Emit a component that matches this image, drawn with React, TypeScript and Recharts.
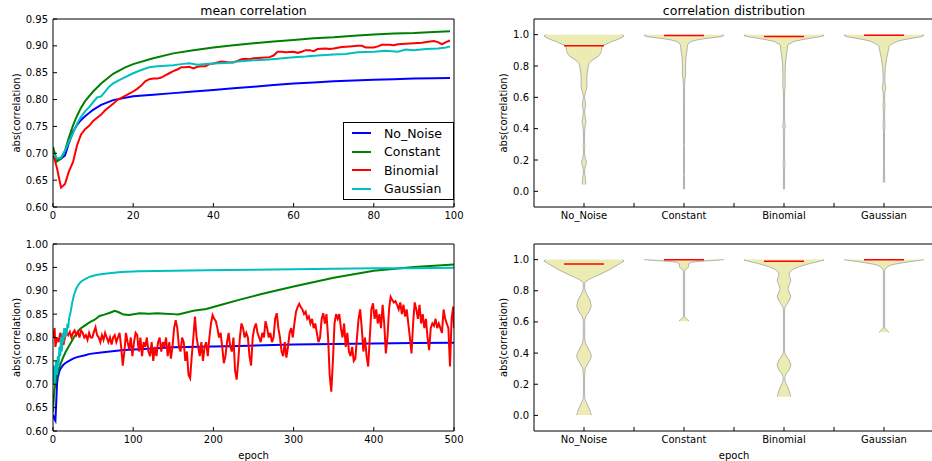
import React from "react";
import {
  Area,
  ComposedChart,
  Legend,
  Line,
  LineChart,
  ReferenceLine,
  XAxis,
  YAxis,
} from "recharts";

const FONT = "DejaVu Sans";

const seriesNames = ["No_Noise", "Constant", "Binomial", "Gaussian"];
const seriesColors = ["#0000ff", "#008000", "#ff0000", "#00bfbf"];

type Pt = [number, number];

// mean correlation, first 100 epochs: [epoch, abs(correlation)]
const shortNoNoise: Pt[] = [
  [0, 0.7], [1, 0.686], [2, 0.69], [3, 0.696], [4, 0.72], [5, 0.74], [6, 0.753],
  [7, 0.762], [8, 0.769], [10, 0.781], [12, 0.79], [15, 0.799], [20, 0.806],
  [25, 0.809], [30, 0.812], [35, 0.815], [40, 0.818], [45, 0.821], [50, 0.824],
  [55, 0.827], [60, 0.83], [65, 0.832], [70, 0.834], [75, 0.8355], [80, 0.837],
  [85, 0.838], [90, 0.839], [95, 0.8395], [99, 0.84],
];
const shortConstant: Pt[] = [
  [0, 0.712], [1, 0.685], [2, 0.69], [3, 0.705], [4, 0.73], [5, 0.752], [6, 0.77],
  [7, 0.785], [8, 0.797], [10, 0.815], [12, 0.83], [15, 0.848], [18, 0.86],
  [20, 0.866], [25, 0.877], [30, 0.886], [35, 0.892], [40, 0.897], [45, 0.901],
  [50, 0.905], [55, 0.908], [60, 0.911], [65, 0.914], [70, 0.916], [75, 0.919],
  [80, 0.921], [85, 0.923], [90, 0.924], [95, 0.926], [99, 0.927],
];
const shortBinomial: Pt[] = [
  [0, 0.7], [1, 0.672], [2, 0.636], [3, 0.643], [4, 0.667], [5, 0.684], [6, 0.715],
  [7, 0.735], [8, 0.745], [9, 0.751], [10, 0.76], [11, 0.766], [12, 0.772],
  [13, 0.78], [14, 0.786], [15, 0.792], [16, 0.799], [17, 0.803], [18, 0.807],
  [19, 0.811], [20, 0.815], [21, 0.82], [22, 0.826], [23, 0.834], [24, 0.838],
  [25, 0.839], [26, 0.839], [27, 0.841], [28, 0.845], [29, 0.849], [30, 0.853],
  [31, 0.856], [32, 0.86], [33, 0.86], [34, 0.861], [35, 0.858], [36, 0.861],
  [37, 0.862], [38, 0.862], [39, 0.866], [40, 0.867], [41, 0.869], [42, 0.871],
  [43, 0.87], [44, 0.869], [45, 0.869], [46, 0.872], [47, 0.875], [48, 0.876],
  [49, 0.875], [50, 0.877], [52, 0.878], [54, 0.879], [55, 0.882], [56, 0.889],
  [57, 0.889], [58, 0.888], [60, 0.889], [61, 0.887], [62, 0.889], [63, 0.892],
  [64, 0.892], [65, 0.89], [66, 0.894], [68, 0.895], [69, 0.894], [70, 0.895],
  [72, 0.898], [74, 0.899], [76, 0.9], [77, 0.9], [78, 0.897], [80, 0.897],
  [81, 0.899], [82, 0.902], [84, 0.902], [85, 0.901], [86, 0.903], [88, 0.904],
  [90, 0.905], [92, 0.906], [94, 0.908], [95, 0.909], [96, 0.907], [97, 0.903],
  [98, 0.907], [99, 0.91],
];
const shortGaussian: Pt[] = [
  [0, 0.7], [1, 0.69], [2, 0.692], [3, 0.705], [4, 0.722], [5, 0.738], [6, 0.755],
  [7, 0.768], [8, 0.778], [9, 0.786], [10, 0.795], [11, 0.804], [12, 0.806],
  [13, 0.815], [14, 0.824], [15, 0.83], [17, 0.838], [20, 0.849], [22, 0.855],
  [24, 0.86], [26, 0.862], [28, 0.863], [30, 0.864], [32, 0.866], [34, 0.8675],
  [36, 0.865], [38, 0.866], [40, 0.867], [43, 0.868], [46, 0.871], [50, 0.873],
  [53, 0.874], [56, 0.876], [60, 0.879], [63, 0.88], [66, 0.882], [70, 0.884],
  [73, 0.885], [76, 0.888], [80, 0.889], [83, 0.891], [86, 0.889], [88, 0.893],
  [90, 0.892], [93, 0.894], [96, 0.895], [98, 0.897], [99, 0.899],
];

// mean correlation, 500 epochs
const longNoNoise: Pt[] = [
  [0, 0.635], [1, 0.63], [2, 0.625], [3, 0.622], [4, 0.66], [5, 0.7], [6, 0.715],
  [8, 0.728], [10, 0.735], [13, 0.742], [16, 0.746], [20, 0.75], [25, 0.755],
  [30, 0.758], [40, 0.762], [46, 0.765], [60, 0.768], [88, 0.773], [120, 0.776],
  [150, 0.779], [200, 0.781], [233, 0.782], [300, 0.785], [350, 0.786],
  [400, 0.787], [450, 0.788], [500, 0.789],
];
const longConstant: Pt[] = [
  [0, 0.64], [1, 0.67], [2, 0.69], [3, 0.7], [5, 0.72], [8, 0.737], [12, 0.755],
  [16, 0.77], [21, 0.785], [26, 0.8], [30, 0.81], [34, 0.819], [40, 0.826],
  [46, 0.833], [52, 0.838], [58, 0.846], [64, 0.849], [71, 0.853], [77, 0.857],
  [82, 0.854], [88, 0.849], [95, 0.848], [108, 0.852], [120, 0.851], [130, 0.852],
  [140, 0.851], [150, 0.85], [156, 0.849], [165, 0.853], [175, 0.857],
  [191, 0.861], [210, 0.87], [233, 0.881], [260, 0.893], [300, 0.909],
  [350, 0.928], [400, 0.943], [450, 0.951], [500, 0.956],
];
const longBinomial: Pt[] = [
  [0, 0.8], [2, 0.82], [3, 0.78], [5, 0.8], [7, 0.79], [9, 0.81], [11, 0.8],
  [13, 0.784], [15, 0.8], [17, 0.81], [19, 0.805], [21, 0.812], [23, 0.8],
  [25, 0.81], [27, 0.815], [29, 0.805], [31, 0.812], [33, 0.8], [35, 0.815],
  [37, 0.81], [39, 0.8], [41, 0.805], [43, 0.795], [45, 0.81], [47, 0.8],
  [49, 0.8], [51, 0.812], [53, 0.822], [55, 0.805], [57, 0.8], [59, 0.79],
  [61, 0.805], [63, 0.795], [65, 0.81], [67, 0.8], [69, 0.79], [71, 0.8],
  [73, 0.785], [75, 0.8], [77, 0.805], [79, 0.79], [81, 0.8], [83, 0.81],
  [85, 0.78], [87, 0.74], [89, 0.77], [91, 0.81], [93, 0.79], [95, 0.775],
  [97, 0.8], [99, 0.76], [101, 0.79], [103, 0.81], [105, 0.805], [107, 0.77],
  [109, 0.8], [111, 0.76], [113, 0.79], [115, 0.78], [117, 0.8], [119, 0.77],
  [121, 0.76], [123, 0.79], [125, 0.75], [127, 0.78], [129, 0.76], [131, 0.79],
  [133, 0.8], [135, 0.77], [137, 0.79], [139, 0.78], [141, 0.8], [143, 0.76],
  [145, 0.79], [147, 0.755], [149, 0.78], [151, 0.82], [153, 0.837], [155, 0.82],
  [157, 0.78], [159, 0.77], [161, 0.8], [163, 0.79], [165, 0.75], [167, 0.77],
  [169, 0.72], [171, 0.713], [173, 0.76], [175, 0.8], [177, 0.845], [179, 0.8],
  [181, 0.78], [183, 0.76], [185, 0.79], [187, 0.75], [189, 0.78], [191, 0.79],
  [193, 0.76], [195, 0.8], [197, 0.83], [199, 0.848], [201, 0.84], [203, 0.835],
  [205, 0.82], [207, 0.8], [209, 0.81], [211, 0.78], [213, 0.745], [215, 0.76],
  [217, 0.79], [219, 0.81], [221, 0.78], [223, 0.77], [225, 0.8], [227, 0.73],
  [229, 0.71], [231, 0.75], [233, 0.8], [235, 0.83], [237, 0.82], [239, 0.8],
  [241, 0.81], [243, 0.8], [245, 0.76], [247, 0.74], [249, 0.8], [251, 0.82],
  [253, 0.83], [255, 0.81], [257, 0.8], [259, 0.79], [261, 0.81], [263, 0.8],
  [265, 0.835], [267, 0.82], [269, 0.8], [271, 0.81], [273, 0.79], [275, 0.8],
  [277, 0.84], [279, 0.852], [281, 0.82], [283, 0.8], [285, 0.77], [287, 0.76],
  [289, 0.79], [291, 0.757], [293, 0.78], [295, 0.81], [297, 0.82], [299, 0.8],
  [301, 0.83], [303, 0.855], [305, 0.865], [307, 0.872], [309, 0.865], [311, 0.86],
  [313, 0.85], [315, 0.855], [317, 0.84], [319, 0.845], [321, 0.83], [323, 0.84],
  [325, 0.82], [327, 0.83], [329, 0.81], [331, 0.79], [333, 0.8], [335, 0.84],
  [337, 0.852], [339, 0.83], [341, 0.85], [343, 0.8], [345, 0.72], [347, 0.684],
  [349, 0.75], [351, 0.83], [353, 0.85], [355, 0.84], [357, 0.85], [359, 0.82],
  [361, 0.8], [363, 0.83], [365, 0.78], [367, 0.81], [369, 0.77], [371, 0.76],
  [373, 0.78], [375, 0.75], [377, 0.755], [379, 0.8], [381, 0.84], [383, 0.86],
  [385, 0.82], [387, 0.77], [389, 0.8], [391, 0.76], [393, 0.738], [395, 0.8],
  [397, 0.86], [399, 0.873], [401, 0.84], [403, 0.86], [405, 0.83], [407, 0.85],
  [409, 0.82], [411, 0.87], [413, 0.83], [415, 0.766], [417, 0.8], [419, 0.86],
  [421, 0.887], [423, 0.88], [425, 0.875], [427, 0.878], [429, 0.87], [431, 0.86],
  [433, 0.875], [435, 0.85], [437, 0.87], [439, 0.845], [441, 0.86], [443, 0.83],
  [445, 0.8], [447, 0.766], [449, 0.83], [451, 0.875], [453, 0.86], [455, 0.84],
  [457, 0.87], [459, 0.83], [461, 0.85], [463, 0.82], [465, 0.84], [467, 0.8],
  [469, 0.773], [471, 0.82], [473, 0.83], [475, 0.825], [477, 0.84], [479, 0.82],
  [481, 0.83], [483, 0.82], [485, 0.81], [487, 0.86], [489, 0.84], [491, 0.83],
  [493, 0.82], [495, 0.738], [497, 0.84], [499, 0.866], [500, 0.82],
];
const longGaussian: Pt[] = [
  [0, 0.7], [1, 0.74], [2, 0.7], [3, 0.73], [4, 0.75], [5, 0.72], [6, 0.76],
  [7, 0.74], [8, 0.78], [9, 0.76], [10, 0.8], [11, 0.77], [12, 0.81], [13, 0.79],
  [14, 0.82], [15, 0.8], [16, 0.82], [17, 0.805], [18, 0.83], [19, 0.82],
  [20, 0.84], [22, 0.855], [24, 0.875], [26, 0.89], [28, 0.9], [30, 0.908],
  [33, 0.916], [36, 0.921], [40, 0.925], [46, 0.93], [55, 0.934], [67, 0.937],
  [85, 0.94], [108, 0.9415], [150, 0.943], [191, 0.944], [250, 0.945],
  [300, 0.946], [350, 0.947], [400, 0.948], [450, 0.948], [500, 0.949],
];

const shortSeries = [shortNoNoise, shortConstant, shortBinomial, shortGaussian];
const longSeries = [longNoNoise, longConstant, longBinomial, longGaussian];

// violin outlines: [abs(correlation), half width]
const shortViolinNoNoise: Pt[] = [
  [0.043, 0.017], [0.06, 0.016], [0.081, 0.015], [0.1, 0.008], [0.124, 0.005],
  [0.156, 0.012], [0.188, 0.025], [0.215, 0.01], [0.252, 0.005], [0.295, 0.008],
  [0.33, 0.005], [0.385, 0.006], [0.412, 0.01], [0.444, 0.02], [0.476, 0.01],
  [0.519, 0.007], [0.551, 0.017], [0.58, 0.01], [0.605, 0.006], [0.637, 0.017],
  [0.669, 0.03], [0.7, 0.028], [0.744, 0.03], [0.79, 0.04], [0.815, 0.05],
  [0.83, 0.07], [0.845, 0.1], [0.86, 0.14], [0.88, 0.165], [0.9, 0.175],
  [0.925, 0.18], [0.936, 0.2], [0.947, 0.25], [0.957, 0.28], [0.968, 0.33],
  [0.979, 0.37], [0.991, 0.4], [1.0, 0.38],
];
const shortViolinConstant: Pt[] = [
  [0.013, 0.006], [0.1, 0.005], [0.3, 0.005], [0.5, 0.005], [0.68, 0.006],
  [0.72, 0.01], [0.75, 0.017], [0.78, 0.015], [0.82, 0.017], [0.86, 0.02],
  [0.89, 0.028], [0.92, 0.033], [0.936, 0.037], [0.947, 0.05], [0.957, 0.075],
  [0.965, 0.12], [0.972, 0.18], [0.979, 0.27], [0.987, 0.36], [0.994, 0.4],
  [1.0, 0.38],
];
const shortViolinBinomial: Pt[] = [
  [0.013, 0.006], [0.14, 0.005], [0.17, 0.01], [0.2, 0.006], [0.39, 0.006],
  [0.42, 0.012], [0.45, 0.006], [0.64, 0.006], [0.68, 0.013], [0.72, 0.01],
  [0.8, 0.013], [0.85, 0.02], [0.88, 0.027], [0.91, 0.033], [0.936, 0.04],
  [0.957, 0.1], [0.968, 0.18], [0.979, 0.28], [0.987, 0.36], [0.994, 0.4],
  [1.0, 0.38],
];
const shortViolinGaussian: Pt[] = [
  [0.056, 0.007], [0.15, 0.005], [0.38, 0.005], [0.42, 0.01], [0.46, 0.006],
  [0.5, 0.006], [0.55, 0.01], [0.58, 0.006], [0.63, 0.008], [0.66, 0.018],
  [0.69, 0.01], [0.73, 0.008], [0.79, 0.013], [0.85, 0.027], [0.89, 0.04],
  [0.925, 0.05], [0.936, 0.067], [0.957, 0.13], [0.968, 0.2], [0.979, 0.3],
  [0.987, 0.37], [0.994, 0.4], [1.0, 0.38],
];
const longViolinNoNoise: Pt[] = [
  [0.003, 0.073], [0.02, 0.065], [0.035, 0.057], [0.06, 0.04], [0.08, 0.027],
  [0.1, 0.012], [0.12, 0.006], [0.25, 0.006], [0.3, 0.012], [0.335, 0.04],
  [0.36, 0.065], [0.38, 0.073], [0.4, 0.065], [0.42, 0.05], [0.455, 0.02],
  [0.49, 0.007], [0.61, 0.007], [0.635, 0.017], [0.665, 0.05], [0.7, 0.073],
  [0.74, 0.06], [0.775, 0.03], [0.8, 0.012], [0.82, 0.006], [0.85, 0.008],
  [0.86, 0.02], [0.87, 0.043], [0.88, 0.075], [0.891, 0.11], [0.905, 0.16],
  [0.924, 0.22], [0.94, 0.27], [0.956, 0.31], [0.975, 0.36], [0.99, 0.4],
  [1.0, 0.39],
];
const longViolinConstant: Pt[] = [
  [0.605, 0.05], [0.615, 0.033], [0.625, 0.015], [0.633, 0.006], [0.925, 0.006],
  [0.935, 0.012], [0.945, 0.035], [0.955, 0.045], [0.965, 0.045], [0.975, 0.05],
  [0.983, 0.075], [0.991, 0.2], [0.996, 0.33], [1.0, 0.4],
];
const longViolinBinomial: Pt[] = [
  [0.12, 0.067], [0.14, 0.06], [0.16, 0.05], [0.19, 0.03], [0.21, 0.015],
  [0.23, 0.008], [0.25, 0.01], [0.27, 0.025], [0.295, 0.055], [0.323, 0.068],
  [0.35, 0.055], [0.375, 0.03], [0.395, 0.01], [0.41, 0.006], [0.68, 0.006],
  [0.695, 0.01], [0.715, 0.03], [0.74, 0.055], [0.765, 0.068], [0.79, 0.05],
  [0.815, 0.04], [0.845, 0.055], [0.865, 0.068], [0.885, 0.06], [0.905, 0.05],
  [0.92, 0.06], [0.934, 0.08], [0.945, 0.115], [0.956, 0.16], [0.966, 0.21],
  [0.977, 0.27], [0.99, 0.36], [0.997, 0.4], [1.0, 0.39],
];
const longViolinGaussian: Pt[] = [
  [0.534, 0.05], [0.545, 0.032], [0.556, 0.012], [0.566, 0.006], [0.93, 0.006],
  [0.945, 0.02], [0.956, 0.04], [0.966, 0.073], [0.977, 0.16], [0.988, 0.27],
  [0.995, 0.36], [1.0, 0.4],
];

const shortViolins = [shortViolinNoNoise, shortViolinConstant, shortViolinBinomial, shortViolinGaussian];
const longViolins = [longViolinNoNoise, longViolinConstant, longViolinBinomial, longViolinGaussian];
const shortMedians = [0.929, 0.995, 0.988, 0.996];
const longMedians = [0.972, 0.999, 0.989, 0.999];

const shortTicksX = [0, 20, 40, 60, 80, 100];
const shortTicksY = [0.6, 0.65, 0.7, 0.75, 0.8, 0.85, 0.9, 0.95];
const longTicksX = [0, 100, 200, 300, 400, 500];
const longTicksY = [0.6, 0.65, 0.7, 0.75, 0.8, 0.85, 0.9, 0.95, 1.0];
const violinTicksX = [1, 1.5, 2, 2.5, 3, 3.5, 4];
const violinTicksY = [0, 0.2, 0.4, 0.6, 0.8, 1.0];

const tickFont = { fontFamily: FONT, fontSize: 10, fill: "#000" };

const toRows = (pts: Pt[]) => pts.map(([e, v]) => ({ e, v }));
const violinRows = (pts: Pt[], pos: number) =>
  pts.map(([v, hw]) => ({ v, span: [pos - hw, pos + hw] }));

const yLabel = (dx: number) => (props: any) => {
  const vb = props.viewBox || {};
  const x = (vb.x ?? 0) + dx;
  const y = (vb.y ?? 0) + (vb.height ?? 0) / 2;
  return (
    <text x={x} y={y} transform={`rotate(-90 ${x} ${y})`} textAnchor="middle"
      dominantBaseline="central" fontFamily={FONT} fontSize={10} fill="#000">
      abs(correlation)
    </text>
  );
};

const epochLabel = (props: any) => {
  const vb = props.viewBox || {};
  return (
    <text x={(vb.x ?? 0) + (vb.width ?? 0) / 2} y={(vb.y ?? 0) + 24} textAnchor="middle"
      dominantBaseline="central" fontFamily={FONT} fontSize={10} fill="#000">
      epoch
    </text>
  );
};

const renderLegend = (props: any) => {
  const items = [...(props.payload || [])].sort(
    (a: any, b: any) => seriesNames.indexOf(a.value) - seriesNames.indexOf(b.value)
  );
  return (
    <div style={{ boxSizing: "border-box", width: 111, height: 78, border: "1px solid #000",
      background: "#fff", paddingTop: 1, fontFamily: FONT, fontSize: 12.5, color: "#000" }}>
      {items.map((it: any) => (
        <div key={it.value} style={{ display: "flex", alignItems: "center", height: 18.5 }}>
          <span style={{ display: "inline-block", width: 19, height: 2, marginLeft: 8,
            marginRight: 13, background: it.color }} />
          <span>{it.value}</span>
        </div>
      ))}
    </div>
  );
};

interface PanelProps {
  height: number;
  bottom: number;
  showEpoch: boolean;
}

// the top and right axes only draw the frame and the inward ticks
function LinePanel({ series, xTicks, yTicks, height, bottom, showEpoch, showLegend }:
  PanelProps & { series: Pt[][]; xTicks: number[]; yTicks: number[]; showLegend: boolean }) {
  const xDomain = [xTicks[0], xTicks[xTicks.length - 1]];
  const yDomain = [yTicks[0], yTicks[yTicks.length - 1]];
  return (
    <LineChart width={466} height={height} margin={{ top: 18, right: 11, bottom, left: 0 }}>
      <XAxis type="number" dataKey="e" domain={xDomain} ticks={xTicks} allowDataOverflow
        interval={0} height={23} stroke="#000" tickSize={-4} tickMargin={9} tick={tickFont}
        label={showEpoch ? epochLabel : undefined} />
      <XAxis xAxisId="top" orientation="top" type="number" domain={xDomain} ticks={xTicks}
        allowDataOverflow interval={0} height={1} stroke="#000" tickSize={-4} tick={false} />
      <YAxis type="number" domain={yDomain} ticks={yTicks} allowDataOverflow interval={0}
        width={53} stroke="#000" tickSize={-4} tickMargin={9} tick={tickFont}
        tickFormatter={(v: number) => v.toFixed(2)} label={yLabel(16)} />
      <YAxis yAxisId="right" orientation="right" type="number" domain={yDomain} ticks={yTicks}
        allowDataOverflow interval={0} width={1} stroke="#000" tickSize={-4} tick={false} />
      {series.map((pts, i) => (
        <Line key={seriesNames[i]} data={toRows(pts)} dataKey="v" name={seriesNames[i]}
          type="linear" stroke={seriesColors[i]} strokeWidth={2} dot={false}
          activeDot={false} isAnimationActive={false} />
      ))}
      {showLegend && (
        <Legend layout="horizontal" verticalAlign="middle" align="center" content={renderLegend}
          wrapperStyle={{ left: 343, top: 122, width: 111, height: 78 }} />
      )}
    </LineChart>
  );
}

function ViolinPanel({ violins, medians, height, bottom, showEpoch }:
  PanelProps & { violins: Pt[][]; medians: number[] }) {
  return (
    <ComposedChart layout="vertical" width={466} height={height}
      margin={{ top: 18, right: 11, bottom, left: 0 }}>
      <XAxis type="number" domain={[0.5, 4.5]} ticks={violinTicksX} allowDataOverflow
        interval={0} height={23} stroke="#000" tickSize={-4} tickMargin={9} tick={tickFont}
        tickFormatter={(v: number) => (Number.isInteger(v) ? seriesNames[v - 1] : "")}
        label={showEpoch ? epochLabel : undefined} />
      <XAxis xAxisId="top" orientation="top" type="number" domain={[0.5, 4.5]}
        ticks={violinTicksX} allowDataOverflow interval={0} height={1} stroke="#000"
        tickSize={-4} tick={false} />
      <YAxis type="number" dataKey="v" domain={[-0.1, 1.1]} reversed ticks={violinTicksY}
        allowDataOverflow interval={0} width={54} stroke="#000" tickSize={-4} tickMargin={9}
        tick={tickFont} tickFormatter={(v: number) => v.toFixed(1)} label={yLabel(23)} />
      <YAxis yAxisId="right" orientation="right" type="number" domain={[-0.1, 1.1]} reversed
        ticks={violinTicksY} allowDataOverflow interval={0} width={1} stroke="#000"
        tickSize={-4} tick={false} />
      {violins.map((pts, i) => (
        <Area key={seriesNames[i]} data={violinRows(pts, i + 1)} dataKey="span"
          type="linear" fill="#ececb2" fillOpacity={1} stroke="#b2b2b2" strokeWidth={1}
          dot={false} activeDot={false} isAnimationActive={false} />
      ))}
      {medians.map((m, i) => (
        <ReferenceLine key={`med-${i}`} segment={[{ x: i + 1 - 0.2, y: m }, { x: i + 1 + 0.2, y: m }]}
          stroke="#ff0000" strokeWidth={1.5} />
      ))}
    </ComposedChart>
  );
}

const titleStyle: React.CSSProperties = {
  position: "absolute", top: 3, height: 15, lineHeight: "15px", textAlign: "center",
  fontFamily: FONT, fontSize: 12.5, color: "#000",
};

export default function App() {
  return (
    <div style={{ position: "absolute", left: 0, top: 0, width: 932, height: 461,
      overflow: "hidden", background: "#fff" }}>
      <div style={{ ...titleStyle, left: 53, width: 401 }}>mean correlation</div>
      <div style={{ ...titleStyle, left: 534, width: 400 }}>correlation distribution</div>
      <div style={{ position: "absolute", left: 0, top: 0 }}>
        <LinePanel series={shortSeries} xTicks={shortTicksX} yTicks={shortTicksY}
          height={230} bottom={0} showEpoch={false} showLegend />
      </div>
      <div style={{ position: "absolute", left: 0, top: 225 }}>
        <LinePanel series={longSeries} xTicks={longTicksX} yTicks={longTicksY}
          height={236} bottom={7} showEpoch showLegend={false} />
      </div>
      <div style={{ position: "absolute", left: 480, top: 0 }}>
        <ViolinPanel violins={shortViolins} medians={shortMedians} height={230} bottom={0}
          showEpoch={false} />
      </div>
      <div style={{ position: "absolute", left: 480, top: 225 }}>
        <ViolinPanel violins={longViolins} medians={longMedians} height={236} bottom={7}
          showEpoch />
      </div>
    </div>
  );
}
